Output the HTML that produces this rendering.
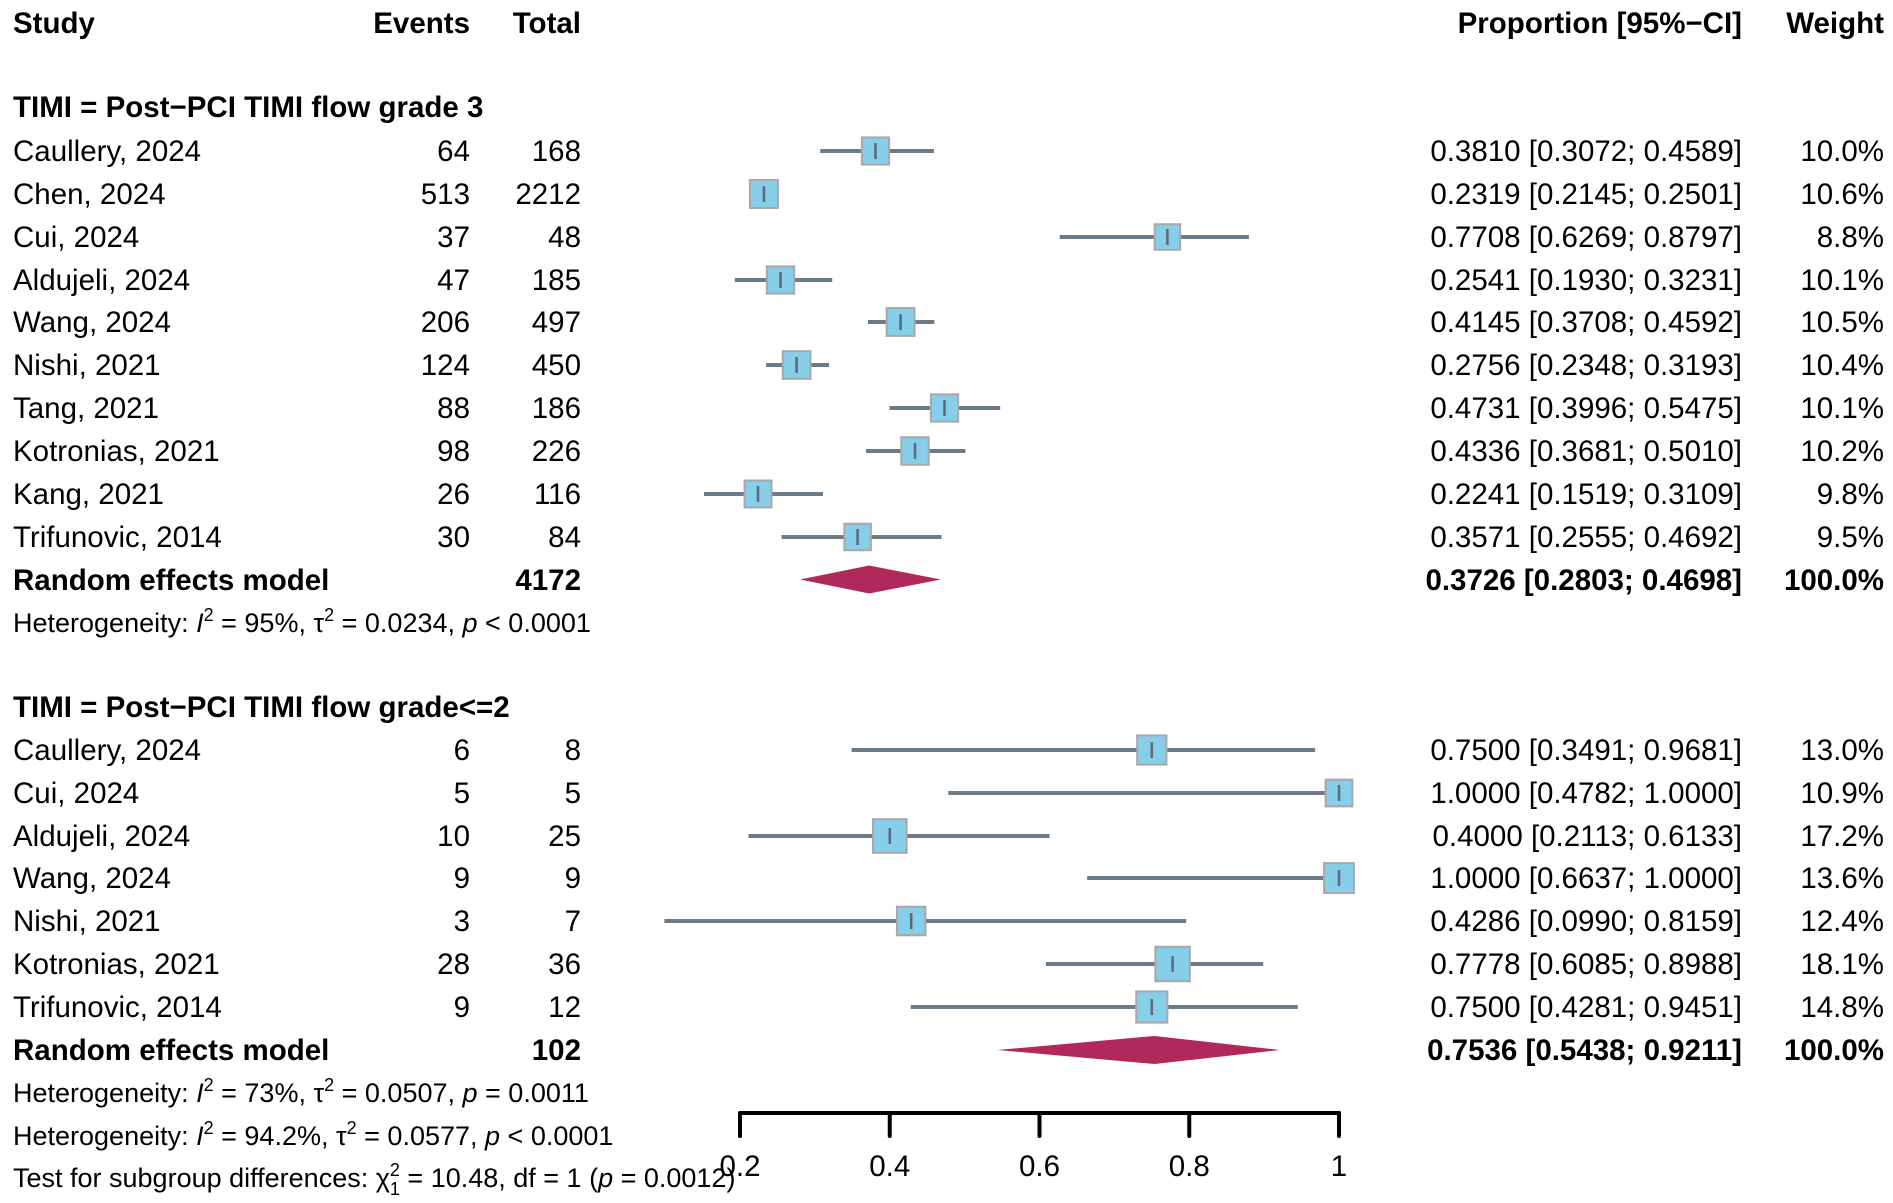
<!DOCTYPE html>
<html><head><meta charset="utf-8"><style>
body{margin:0;background:#fff}
svg{display:block}
text{font-family:"Liberation Sans",Arial,sans-serif;font-size:29.5px;fill:#000}
.b{font-weight:bold}
.s{font-size:27px}
.e{text-anchor:end}
.m{text-anchor:middle}
.ci{stroke:#6b7b8a;stroke-width:4}
.sq{fill:#87ceeb;stroke:#a8a8a8;stroke-width:2}
.tk{stroke:#5a6a7a;stroke-width:2.5}
</style></head><body>
<svg width="1893" height="1203" viewBox="0 0 1893 1203" xmlns="http://www.w3.org/2000/svg">
<g class="b">
<text x="13" y="33">Study</text>
<text x="470" y="33" class="e">Events</text>
<text x="581" y="33" class="e">Total</text>
<text x="1742" y="33" class="e">Proportion [95%−CI]</text>
<text x="1884" y="33" class="e">Weight</text>
<text x="13" y="117">TIMI = Post−PCI TIMI flow grade 3</text>
<text x="13" y="717">TIMI = Post−PCI TIMI flow grade&lt;=2</text>
<text x="13" y="590">Random effects model</text>
<text x="581" y="590" class="e">4172</text>
<text x="1742" y="590" class="e">0.3726 [0.2803; 0.4698]</text>
<text x="1884" y="590" class="e">100.0%</text>
<text x="13" y="1060">Random effects model</text>
<text x="581" y="1060" class="e">102</text>
<text x="1742" y="1060" class="e">0.7536 [0.5438; 0.9211]</text>
<text x="1884" y="1060" class="e">100.0%</text>
</g>
<g id="rows"></g>
<polygon points="800.1,579.5 869.2,565.5 940.8,579.5 869.2,593.5" fill="#b0295a"/>
<polygon points="997.4,1050 1154.5,1036 1279.8,1050 1154.5,1064" fill="#b0295a"/>
<text x="13" y="632" class="s">Heterogeneity: <tspan font-style="italic">I</tspan><tspan dy="-11" font-size="18">2</tspan><tspan dy="11"> = 95%, τ</tspan><tspan dy="-11" font-size="18">2</tspan><tspan dy="11"> = 0.0234, </tspan><tspan font-style="italic">p</tspan> &lt; 0.0001</text>
<text x="13" y="1102" class="s">Heterogeneity: <tspan font-style="italic">I</tspan><tspan dy="-11" font-size="18">2</tspan><tspan dy="11"> = 73%, τ</tspan><tspan dy="-11" font-size="18">2</tspan><tspan dy="11"> = 0.0507, </tspan><tspan font-style="italic">p</tspan> = 0.0011</text>
<text x="13" y="1145" class="s">Heterogeneity: <tspan font-style="italic">I</tspan><tspan dy="-11" font-size="18">2</tspan><tspan dy="11"> = 94.2%, τ</tspan><tspan dy="-11" font-size="18">2</tspan><tspan dy="11"> = 0.0577, </tspan><tspan font-style="italic">p</tspan> &lt; 0.0001</text>
<text x="13" y="1187" class="s">Test for subgroup differences: χ<tspan dy="-11" font-size="18">2</tspan><tspan dx="-10" dy="19" font-size="18">1</tspan><tspan dy="-8"> = 10.48, df = 1 (</tspan><tspan font-style="italic">p</tspan> = 0.0012)</text>
<g stroke="#000" stroke-width="4" stroke-linecap="round">
<line x1="740" y1="1113" x2="1339" y2="1113"/>
<line x1="740" y1="1113" x2="740" y2="1136"/>
<line x1="889.75" y1="1113" x2="889.75" y2="1136"/>
<line x1="1039.5" y1="1113" x2="1039.5" y2="1136"/>
<line x1="1189.25" y1="1113" x2="1189.25" y2="1136"/>
<line x1="1339" y1="1113" x2="1339" y2="1136"/>
</g>
<g class="m">
<text x="740" y="1176">0.2</text><text x="889.75" y="1176">0.4</text><text x="1039.5" y="1176">0.6</text><text x="1189.25" y="1176">0.8</text><text x="1339" y="1176">1</text>
</g>
</svg>
<script>
var d=[
["Caullery, 2024",64,168,875.5,820.3,933.9,"0.3810 [0.3072; 0.4589]",10.0,151],
["Chen, 2024",513,2212,763.9,750.9,777.5,"0.2319 [0.2145; 0.2501]",10.6,194],
["Cui, 2024",37,48,1167.4,1059.7,1248.9,"0.7708 [0.6269; 0.8797]",8.8,237],
["Aldujeli, 2024",47,185,780.5,734.8,832.2,"0.2541 [0.1930; 0.3231]",10.1,280],
["Wang, 2024",206,497,900.6,867.9,934.3,"0.4145 [0.3708; 0.4592]",10.5,322],
["Nishi, 2021",124,450,796.6,766.1,829.1,"0.2756 [0.2348; 0.3193]",10.4,365],
["Tang, 2021",88,186,944.5,889.5,1000.2,"0.4731 [0.3996; 0.5475]",10.1,408],
["Kotronias, 2021",98,226,915.0,865.9,965.4,"0.4336 [0.3681; 0.5010]",10.2,451],
["Kang, 2021",26,116,758.0,704.0,823.0,"0.2241 [0.1519; 0.3109]",9.8,494],
["Trifunovic, 2014",30,84,857.6,781.6,941.6,"0.3571 [0.2555; 0.4692]",9.5,537],
["Caullery, 2024",6,8,1151.8,851.6,1315.1,"0.7500 [0.3491; 0.9681]",13.0,750],
["Cui, 2024",5,5,1339,948.3,1339,"1.0000 [0.4782; 1.0000]",10.9,793],
["Aldujeli, 2024",10,25,889.8,748.5,1049.5,"0.4000 [0.2113; 0.6133]",17.2,836],
["Wang, 2024",9,9,1339,1087.2,1339,"1.0000 [0.6637; 1.0000]",13.6,878],
["Nishi, 2021",3,7,911.2,664.4,1186.2,"0.4286 [0.0990; 0.8159]",12.4,921],
["Kotronias, 2021",28,36,1172.6,1045.9,1263.2,"0.7778 [0.6085; 0.8988]",18.1,964],
["Trifunovic, 2014",9,12,1151.8,910.8,1297.8,"0.7500 [0.4281; 0.9451]",14.8,1007]];
var h="";d.forEach(function(r,i){var y=r[8],ty=y+10,w=r[7],s=(i<10?8.6:8.1)*Math.sqrt(w);
h+='<text x="13" y="'+ty+'">'+r[0]+'</text><text x="470" y="'+ty+'" class="e">'+r[1]+'</text><text x="581" y="'+ty+'" class="e">'+r[2]+'</text><text x="1742" y="'+ty+'" class="e">'+r[6]+'</text><text x="1884" y="'+ty+'" class="e">'+w.toFixed(1)+'%</text>';
h+='<line class="ci" x1="'+r[4]+'" y1="'+y+'" x2="'+r[5]+'" y2="'+y+'"/><rect class="sq" x="'+(r[3]-s/2)+'" y="'+(y-s/2)+'" width="'+s+'" height="'+s+'"/><line class="tk" x1="'+r[3]+'" y1="'+(y-8)+'" x2="'+r[3]+'" y2="'+(y+8)+'"/>';
});
document.getElementById("rows").innerHTML=h;
</script>
</body></html>
